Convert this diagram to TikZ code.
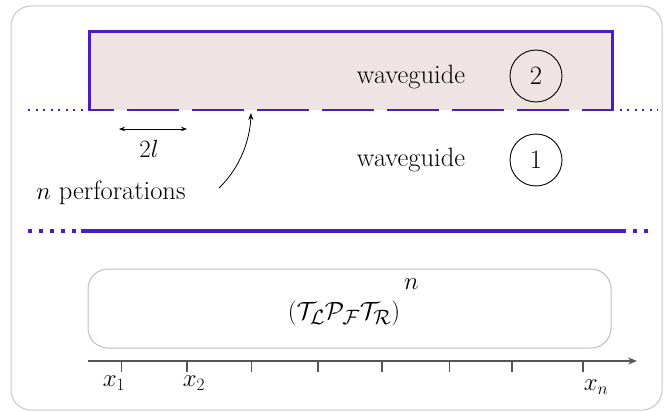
\documentclass[tikz,border=0pt]{standalone}
\usepackage{fontspec}
\usetikzlibrary{arrows.meta}
\definecolor{wg}{HTML}{4A1CC8}
\definecolor{wgfill}{HTML}{EFE3E3}
\definecolor{axisgray}{HTML}{555555}
\tikzset{
  wall/.style={draw=wg, line width=3pt},
  perf/.style={draw=wg, line width=2.6pt, dash pattern=on 52pt off 13pt, dash phase=27pt},
  thindots/.style={draw=wg, line width=2pt, dash pattern=on 2pt off 5.5pt},
  thickdots/.style={draw=wg, line width=3.5pt, dash pattern=on 3.5pt off 7.5pt},
  label/.style={inner sep=0pt},
  num/.style={draw, circle, line width=0.9pt, minimum size=52pt, inner sep=0pt},
  tick/.style={draw=axisgray, line width=1.1pt},
}
\begin{document}
\begin{tikzpicture}[x=1pt, y=-1pt, font=\fontsize{26.5}{31}\selectfont]
\useasboundingbox (0,0) rectangle (664,412);
% outer frame
\draw[black!22, line width=1pt, rounded corners=20pt] (11,6) rectangle (662,410);

% waveguide 2
\fill[wgfill] (89,32) rectangle (612,110);
\draw[wall] (89,110) -- (89,32) -- (612,32) -- (612,110);
\draw[perf] (89,110) -- (612,110);
\draw[thindots] (28,110) -- (89,110);
\draw[thindots] (612,110) -- (658,110);

% waveguide 1 bottom wall
\draw[wall, line width=3.5pt] (81,231) -- (622,231);
\draw[thickdots] (28,231) -- (81,231);
\draw[thickdots] (622,231) -- (650,231);

% labels
\node[label] (wg2) at (411,77) {waveguide};
\node[num] (c2) at (536,76) {2};
\node[label] (wg1) at (411,160) {waveguide};
\node[num] (c1) at (536,160) {1};

% 2l
\coordinate (la) at (119,129);
\coordinate (lb) at (187,129);
\draw[{Stealth[length=6pt,width=4.5pt]}-{Stealth[length=6pt,width=4.5pt]}, line width=0.8pt] (la) -- (lb);
\node[label] (twol) at (149,149) {$2l$};

% perforations
\node[label] (perfs) at (111,193) {$n$ perforations};
\coordinate (gap) at (251,113);
\draw[-{Stealth[length=7pt,width=5pt]}, line width=0.8pt] (219,188) .. controls (240,168) and (250,140) .. (gap);

% transfer matrix box
\draw[black!25, line width=1pt, rounded corners=20pt] (88,269) rectangle (611,348);
\node[label, font=\fontsize{29.5}{34}\selectfont] (prod) at (344,313) {$(\mathcal{T}_{\mathcal{L}}\mathcal{P}_{\mathcal{F}}\mathcal{T}_{\mathcal{R}})$\rlap{\smash{\kern4pt\raisebox{30pt}{$n$}}}};

% axis
\coordinate (ax0) at (88,361);
\coordinate (ax1) at (637,361);
\draw[axisgray, line width=1.2pt, -{Stealth[length=9pt,width=7pt]}] (ax0) -- (ax1);
\foreach \x in {121.5,187,251.5,318,382,449.5,512,583}{
  \draw[tick] (\x,361) -- (\x,372);
}
\node[label] (x1) at (114,383) {$x_1$};
\node[label] (x2) at (194,383) {$x_2$};
\node[label] (xn) at (596,387) {$x_n$};
\end{tikzpicture}
\end{document}
